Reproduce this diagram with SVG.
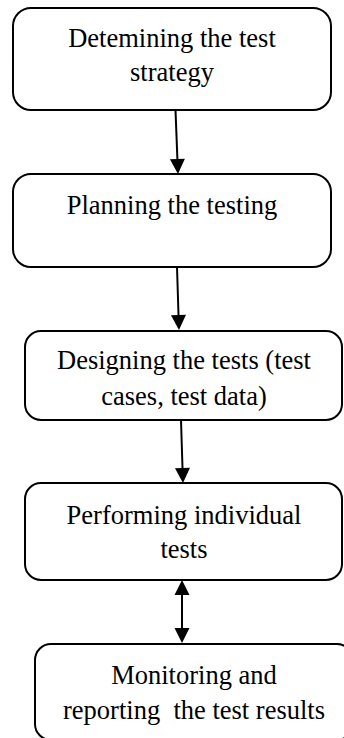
<svg xmlns="http://www.w3.org/2000/svg" width="344" height="738" viewBox="0 0 344 738">
<style>
.box{fill:#fff;stroke:#000;stroke-width:2}
.lbl{font-family:"Liberation Serif","Times New Roman",serif;font-size:26.5px;fill:#000;text-anchor:middle;white-space:pre}
.conn{stroke:#000;stroke-width:2;fill:none}
</style>
<defs>
<marker id="ah" markerUnits="userSpaceOnUse" markerWidth="16" markerHeight="16" refX="0" refY="7.5" orient="auto-start-reverse" overflow="visible">
<path d="M0,0 L15,7.5 L0,15 z" fill="#000"/>
</marker>
</defs>
<rect width="344" height="738" fill="#fff"/>
<g id="connectors">
<line class="conn" x1="175.5" y1="110" x2="177.4" y2="159" marker-end="url(#ah)"/>
<line class="conn" x1="177" y1="267" x2="178.5" y2="315" marker-end="url(#ah)"/>
<line class="conn" x1="181" y1="420" x2="182.5" y2="468" marker-end="url(#ah)"/>
<line class="conn" x1="182" y1="595" x2="182" y2="628" marker-start="url(#ah)" marker-end="url(#ah)"/>
</g>
<g id="n1">
<rect class="box" x="13" y="8" width="318" height="102" rx="18"/>
<text class="lbl" x="172" y="47">Detemining the test</text>
<text class="lbl" x="172" y="81">strategy</text>
</g>
<g id="n2">
<rect class="box" x="13" y="174" width="318" height="93" rx="18"/>
<text class="lbl" x="172" y="214">Planning the testing</text>
</g>
<g id="n3">
<rect class="box" x="25" y="331" width="317" height="89" rx="16"/>
<text class="lbl" x="184" y="369">Designing the tests (test</text>
<text class="lbl" x="184" y="405">cases, test data)</text>
</g>
<g id="n4">
<rect class="box" x="25" y="483" width="317" height="97" rx="16"/>
<text class="lbl" x="184" y="524">Performing individual</text>
<text class="lbl" x="184" y="558">tests</text>
</g>
<g id="n5">
<rect class="box" x="35" y="644" width="318" height="96" rx="16"/>
<text class="lbl" x="194" y="684">Monitoring and</text>
<text class="lbl" x="194" y="719">reporting  the test results</text>
</g>
</svg>
